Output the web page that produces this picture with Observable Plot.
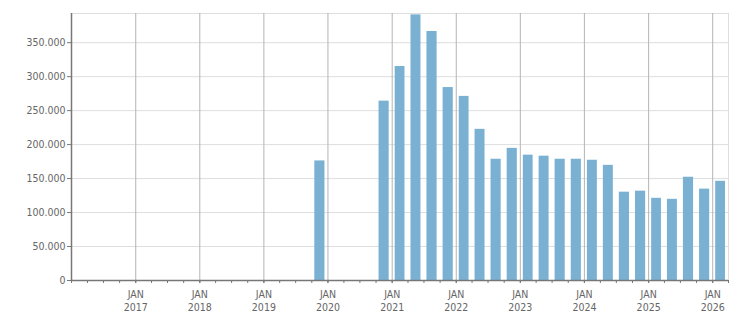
<!DOCTYPE html>
<html>
<head>
<meta charset="utf-8">
<script src="https://cdn.jsdelivr.net/npm/d3@7"></script>
<script src="https://cdn.jsdelivr.net/npm/@observablehq/plot@0.6"></script>
<style>
  html, body { margin: 0; padding: 0; background: #fff; }
  #chart svg { display: block; }
</style>
</head>
<body>
<div id="chart"></div>
<script>
// Quarter start months and values
const quarters = [
  "2019-10",
  "2020-10",
  "2021-01", "2021-04", "2021-07", "2021-10",
  "2022-01", "2022-04", "2022-07", "2022-10",
  "2023-01", "2023-04", "2023-07", "2023-10",
  "2024-01", "2024-04", "2024-07", "2024-10",
  "2025-01", "2025-04", "2025-07", "2025-10",
  "2026-01"
];
const values = [
  176000,
  264000,
  315000, 391000, 366500, 284000,
  271000, 222500, 178500, 194500,
  184500, 183000, 178500, 178500,
  177000, 169500, 130000, 131500,
  121000, 119500, 152000, 134500,
  146000
];
const yTicks = [0, 50000, 100000, 150000, 200000, 250000, 300000, 350000];
const yearLabels = [2017, 2018, 2019, 2020, 2021, 2022, 2023, 2024, 2025, 2026];

const parse = d3.utcParse("%Y-%m");
const data = quarters.map((q, i) => {
  const start = parse(q);
  return {start, end: d3.utcMonth.offset(start, 3), value: values[i]};
});

const xStart = new Date(Date.UTC(2016, 0, 1));
const xEnd = new Date(Date.UTC(2026, 3, 1));
const yMax = 393000;
const years = yearLabels.map(y => new Date(Date.UTC(y, 0, 1)));
const quarterTicks = d3.utcMonth.every(3).range(xStart, d3.utcDay.offset(xEnd, 1));

const fmt = d => d3.format(",")(d).replace(/,/g, ".");

const chart = Plot.plot({
  width: 751,
  height: 313,
  marginLeft: 71,
  marginRight: 23,
  marginTop: 13,
  marginBottom: 33,
  style: {fontFamily: "'DejaVu Sans Condensed', 'DejaVu Sans', sans-serif", fontSize: "10.5px", color: "#666", background: "#fff"},
  x: {type: "utc", domain: [xStart, xEnd]},
  y: {domain: [0, yMax]},
  marks: [
    Plot.ruleY(yTicks.slice(1), {stroke: "#dedede", strokeOpacity: 1}),
    Plot.ruleY([yMax], {stroke: "#dedede", strokeOpacity: 1}),
    Plot.ruleX([xEnd], {stroke: "#dedede", strokeOpacity: 1}),
    Plot.ruleX(years, {stroke: "#b4b4b4", strokeOpacity: 1}),
    Plot.rectY(data, {x1: "start", x2: "end", y: "value", fill: "#7ab1d3", insetLeft: 3, insetRight: 3}),
    Plot.axisY({ticks: yTicks, tickSize: 4, tickPadding: 2, tickFormat: fmt, stroke: "#777", fill: "#666", label: null}),
    Plot.axisX({ticks: quarterTicks, tickSize: 3, tickFormat: () => "", stroke: "#777", label: null}),
    Plot.axisX({ticks: years, tickSize: 3, tickPadding: 6, tickFormat: d => `JAN\n${d.getUTCFullYear()}`, stroke: "#777", fill: "#666", lineHeight: 1.2, label: null}),
    Plot.ruleY([0], {stroke: "#777", strokeWidth: 1.5}),
    Plot.ruleX([xStart], {stroke: "#777", strokeWidth: 1.5})
  ]
});
document.getElementById("chart").appendChild(chart);
</script>
</body>
</html>
